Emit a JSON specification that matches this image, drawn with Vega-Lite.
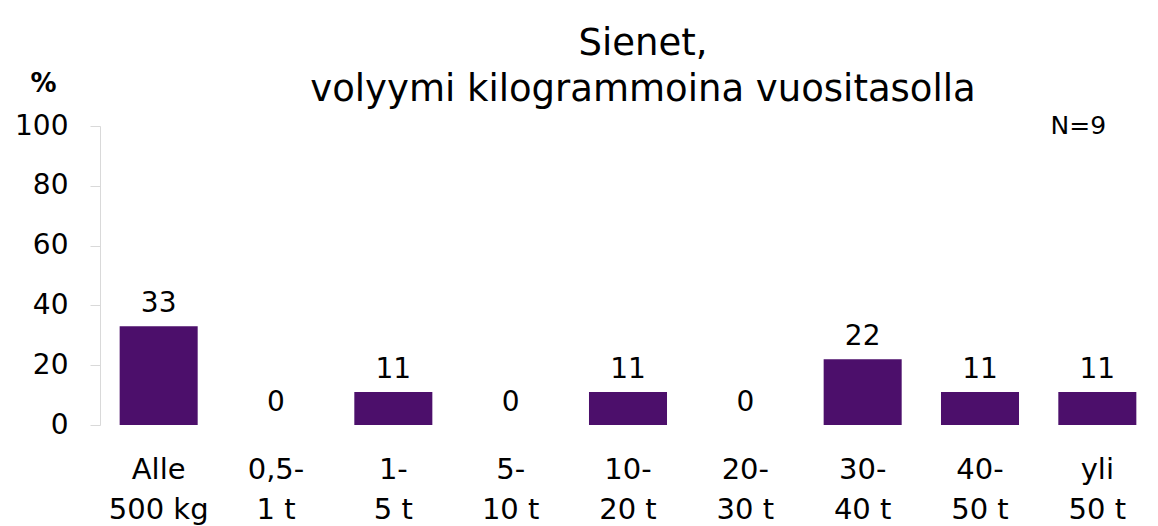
{
  "$schema": "https://vega.github.io/schema/vega-lite/v6.json",
  "width": 1056,
  "height": 299,
  "autosize": {"type": "none"},
  "padding": {"left": 100, "top": 126, "right": 2, "bottom": 101},
  "background": "white",
  "config": {
    "font": "DejaVu Sans",
    "view": {"stroke": null}
  },
  "title": {
    "text": ["Sienet,", "volyymi kilogrammoina vuositasolla"],
    "fontSize": 37,
    "fontWeight": "normal",
    "color": "black",
    "anchor": "middle",
    "frame": "group",
    "lineHeight": 46,
    "offset": -39,
    "dx": 15
  },
  "data": {
    "values": [
      {"luokka": "Alle|500 kg", "osuus": 33},
      {"luokka": "0,5-|1 t", "osuus": 0},
      {"luokka": "1-|5 t", "osuus": 11},
      {"luokka": "5-|10 t", "osuus": 0},
      {"luokka": "10-|20 t", "osuus": 11},
      {"luokka": "20-|30 t", "osuus": 0},
      {"luokka": "30-|40 t", "osuus": 22},
      {"luokka": "40-|50 t", "osuus": 11},
      {"luokka": "yli|50 t", "osuus": 11}
    ]
  },
  "encoding": {
    "x": {
      "field": "luokka",
      "type": "nominal",
      "sort": null,
      "scale": {"paddingInner": 0.335, "paddingOuter": 0.1675},
      "axis": {
        "title": null,
        "domain": false,
        "ticks": false,
        "labelAngle": 0,
        "labelFontSize": 29,
        "labelColor": "black",
        "labelPadding": 30,
        "labelLineHeight": 40,
        "labelExpr": "split(datum.label, '|')"
      }
    },
    "y": {
      "field": "osuus",
      "type": "quantitative",
      "scale": {"domain": [0, 100]},
      "axis": {
        "values": [0, 20, 40, 60, 80, 100],
        "grid": false,
        "domainColor": "#d9d9d9",
        "tickColor": "#d9d9d9",
        "tickSize": 10,
        "labelFontSize": 28,
        "labelColor": "black",
        "labelPadding": 22,
        "title": "%",
        "titleAngle": 0,
        "titleFontSize": 26,
        "titleFontWeight": "bold",
        "titleColor": "black",
        "titleX": -57,
        "titleY": -43,
        "titleAlign": "center",
        "titleBaseline": "middle"
      }
    }
  },
  "layer": [
    {"mark": {"type": "bar", "color": "#4C0F6B"}},
    {
      "mark": {"type": "text", "fontSize": 28, "baseline": "bottom", "dy": -8, "color": "black"},
      "encoding": {"text": {"field": "osuus", "type": "quantitative"}}
    },
    {
      "transform": [{"filter": "datum.luokka === 'yli|50 t'"}],
      "mark": {"type": "text", "fontSize": 25, "fontWeight": "normal", "baseline": "middle", "dx": -19, "color": "black", "text": "N=9"},
      "encoding": {
        "y": {"datum": 100}
      }
    }
  ]
}
